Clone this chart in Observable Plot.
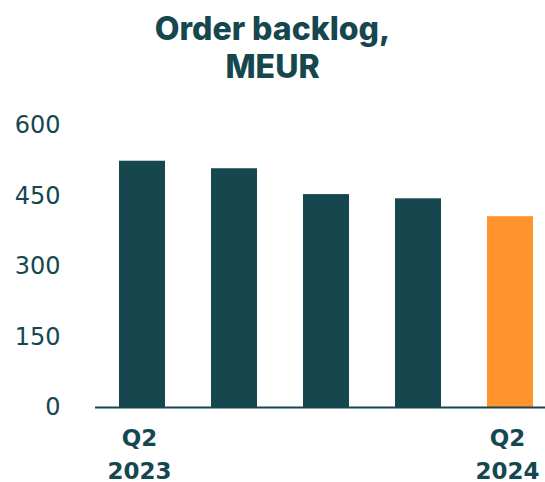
<!DOCTYPE html>
<html>
<head>
<meta charset="utf-8">
<script src="https://cdn.jsdelivr.net/npm/d3@7"></script>
<script src="https://cdn.jsdelivr.net/npm/@observablehq/plot@0.6"></script>
<style>
  html, body { margin: 0; padding: 0; background: #fff; }
  #wrap { width: 545px; height: 482px; overflow: hidden; }
  #title { font-family: Inter, Lato, sans-serif; font-weight: 800; font-size: 32px; line-height: 38px;
           color: #16474f; text-align: center; padding-top: 10px; height: 88px; box-sizing: border-box; }
</style>
</head>
<body>
<div id="wrap">
  <div id="title">Order backlog,<br>MEUR</div>
  <div id="chart"></div>
</div>
<script>
const quarters = ["Q2 2023", "Q3 2023", "Q4 2023", "Q1 2024", "Q2 2024"];
const backlog = [524, 508, 453, 444, 406];
const tickLabels = ["Q2\n2023", "", "", "", "Q2\n2024"];
const barColors = ["#16474f", "#16474f", "#16474f", "#16474f", "#ff942d"];
const yTicks = [0, 150, 300, 450, 600];

const data = quarters.map((q, i) => ({ q, v: backlog[i], c: barColors[i], label: tickLabels[i] }));
const teal = "#16474f";
const titleH = 88;

const chart = Plot.plot({
  width: 545,
  height: 482 - titleH,
  marginLeft: 95,
  marginRight: 0,
  marginTop: 125 - titleH,
  marginBottom: 482 - 407,
  style: { fontFamily: "DejaVu Sans, sans-serif", color: teal, background: "#fff" },
  x: { domain: quarters, range: [95, 556], paddingInner: 0.5, paddingOuter: 0.25, axis: null },
  y: { domain: [0, 600], axis: null },
  marks: [
    Plot.barY(data, { x: "q", y: "v", fill: "c" }),
    Plot.ruleY([0], { stroke: teal, strokeWidth: 2 }),
    Plot.axisY({ ticks: yTicks, tickSize: 0, tickPadding: 35, fontSize: 24, fill: teal, label: null }),
    Plot.axisX({ tickSize: 0, tickPadding: 16, fontSize: 23, fontWeight: "bold", fill: teal,
                 lineHeight: 1.4, dx: -3, label: null,
                 tickFormat: d => tickLabels[quarters.indexOf(d)] })
  ]
});
document.getElementById("chart").appendChild(chart);
</script>
</body>
</html>
